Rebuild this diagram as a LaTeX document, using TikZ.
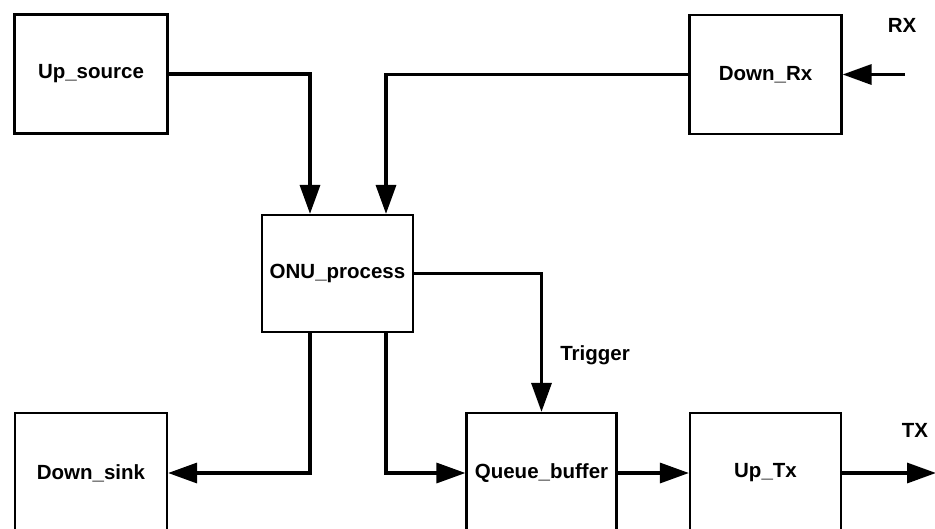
\documentclass[tikz,border=0pt]{standalone}
\usepackage{fontspec}
\setmainfont{Liberation Sans}
\usetikzlibrary{arrows.meta}
\tikzset{
  blk/.style={draw=black, line width=2.2pt, inner sep=0pt, font=\fontsize{20.5}{24}\selectfont\bfseries, text=black},
  arr/.style={line width=3.3pt, -{Triangle[length=29pt,width=20pt]}},
  lbl/.style={font=\fontsize{20.5}{24}\selectfont\bfseries, inner sep=0pt, text=black}
}
\begin{document}
\begin{tikzpicture}[x=1pt,y=-1pt]
\useasboundingbox (0,0) rectangle (935,528);
\clip (0,0) rectangle (935,528);
\fill[white] (0,0) rectangle (935,528);
\node[blk, minimum width=153pt, minimum height=119pt] (usrc) at (91,74) {Up\_source};
\node[blk, minimum width=152pt, minimum height=119pt] (drx) at (765.5,74.5) {Down\_Rx};
\node[blk, minimum width=151pt, minimum height=117pt] (onu) at (337.5,273.5) {ONU\_process};
\node[blk, minimum width=152pt, minimum height=120pt] (dsink) at (91,473) {Down\_sink};
\node[blk, minimum width=150pt, minimum height=120pt] (qbuf) at (541.5,473) {Queue\_buffer};
\node[blk, minimum width=151pt, minimum height=120pt] (uptx) at (765.5,473) {Up\_Tx};
\coordinate (rxin) at (905,74.5);
\coordinate (txout) at (936,473);
\node[lbl] (rx) at (902,25) {RX};
\node[lbl] (tx) at (915,430) {TX};
\node[lbl] (trig) at (595,355) {Trigger};
\draw[arr] (usrc.east) -| ([xshift=-27.5pt]onu.north);
\draw[arr] (drx.west) -| ([xshift=48.5pt]onu.north);
\draw[arr] (rxin) -- (drx.east);
\draw[arr] (onu.east) -| (qbuf.north);
\draw[arr] ([xshift=-27.5pt]onu.south) |- (dsink.east);
\draw[arr] ([xshift=48.5pt]onu.south) |- (qbuf.west);
\draw[arr] (qbuf.east) -- (uptx.west);
\draw[arr] (uptx.east) -- (txout);
\end{tikzpicture}
\end{document}
